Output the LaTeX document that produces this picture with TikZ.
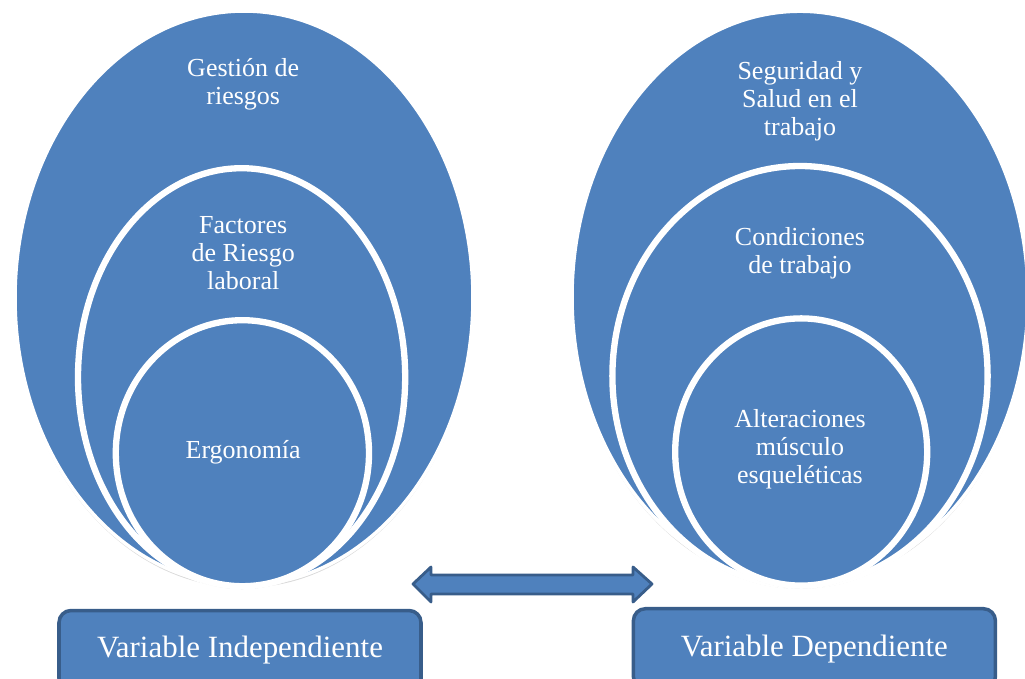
\documentclass[tikz,border=0pt]{standalone}
\usepackage{fontspec}
\setmainfont{Liberation Serif}
\usetikzlibrary{positioning,shapes,shadows}
\definecolor{officeblue}{HTML}{4F81BD}
\definecolor{officeline}{HTML}{385D8A}
\tikzset{%
	ring/.style={%
		ellipse,
		fill=officeblue,
		draw=white,
		line width=4.5pt,
		inner sep=0pt,
		drop shadow={shadow xshift=0pt, shadow yshift=-2pt, opacity=0.3}
	},
	outerring/.style={%
		ring,
		line width=2.5pt
	},
	ringtext/.style={%
		text=white,
		align=center,
		font=\rmfamily\fontsize{18.5}{20}\selectfont
	},
	varbox/.style={%
		rectangle,
		rounded corners=0.3cm,
		fill=officeblue,
		draw=officeline,
		line width=2.5pt,
		text=white,
		font=\rmfamily\fontsize{22}{26}\selectfont,
		minimum width=9.05cm,
		minimum height=2cm
	},
	blockarrow/.style={%
		draw=officeline,
		fill=officeblue,
		line width=2pt,
		line join=round
	}
}

\begin{document}
\begin{tikzpicture}
    \useasboundingbox (0,0) rectangle (25.625,-16.975);
    % variable independiente
    \node [outerring, minimum width=11.45cm, minimum height=14.35cm] (gestion) at (6.1,-7.45) {};
    \node [ring, minimum width=8.18cm, minimum height=10.45cm] (factores) at (6.04,-9.43) {};
    \node [ring, minimum width=6.33cm, minimum height=6.65cm] (ergonomia) at (6.06,-11.33) {};
    \node [ringtext] (gestiontxt) at (6.08,-2.1) {Gestión de\\riesgos};
    \node [ringtext] (factorestxt) at (6.08,-6.33) {Factores\\de Riesgo\\laboral};
    \node [ringtext] (ergonomiatxt) at (6.08,-11.3) {Ergonomía};
    % variable dependiente
    \node [outerring, minimum width=11.4cm, minimum height=14.3cm] (seguridad) at (20.0,-7.43) {};
    \node [ring, minimum width=9.38cm, minimum height=10.5cm] (condiciones) at (20.0,-9.4) {};
    \node [ring, minimum width=6.3cm, minimum height=6.68cm] (alteraciones) at (20.03,-11.3) {};
    \node [ringtext] (seguridadtxt) at (20.0,-2.53) {Seguridad y\\Salud en el\\trabajo};
    \node [ringtext] (condicionestxt) at (20.0,-6.33) {Condiciones\\de trabajo};
    \node [ringtext] (alteracionestxt) at (20.0,-11.23) {Alteraciones\\músculo\\esqueléticas};
    % relacion
    \draw [blockarrow] (10.325,-14.6) -- (10.775,-14.175) -- (10.775,-14.375) -- (15.825,-14.375)
        -- (15.825,-14.175) -- (16.3,-14.6) -- (15.825,-15.05) -- (15.825,-14.85)
        -- (10.775,-14.85) -- (10.775,-15.05) -- cycle;
    \node [varbox, below=0.55cm of gestion, xshift=-0.1cm] (indep) {Variable Independiente};
    \node [varbox, below=0.55cm of seguridad, xshift=0.36cm] (dep) {Variable Dependiente};
\end{tikzpicture}
\end{document}
